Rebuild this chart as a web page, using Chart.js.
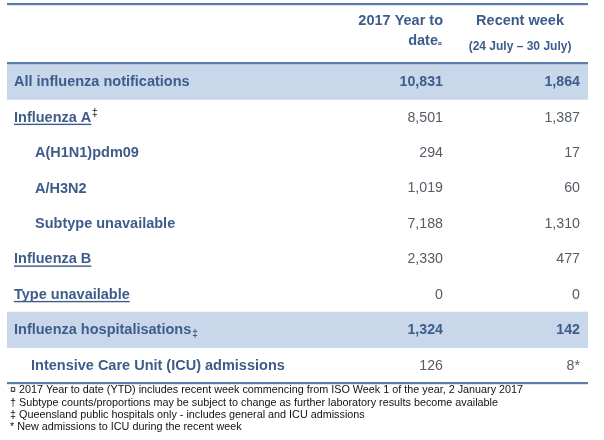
<!DOCTYPE html>
<html>
<head>
<meta charset="utf-8">
<script src="https://cdn.jsdelivr.net/npm/chart.js@4"></script>
<style>
  body { margin: 0; background: #fff; }
</style>
</head>
<body>
<canvas id="fluTable" width="604" height="440"></canvas>
<script>
// table data
const rowLabels = [
  "All influenza notifications",
  "Influenza A",
  "A(H1N1)pdm09",
  "A/H3N2",
  "Subtype unavailable",
  "Influenza B",
  "Type unavailable",
  "Influenza hospitalisations",
  "Intensive Care Unit (ICU) admissions",
];
const labelMarks = ["", "‡", "", "", "", "", "", "‡", ""];
const ytdValues = [10831, 8501, 294, 1019, 7188, 2330, 0, 1324, 126];
const weekValues = [1864, 1387, 17, 60, 1310, 477, 0, 142, 8];
const weekMarks = ["", "", "", "", "", "", "", "", "*"];
const columnHeads = [["2017 Year to", "date"], ["Recent week", "(24 July – 30 July)"]];
const footnotes = [
  "¤ 2017 Year to date (YTD) includes recent week commencing from ISO Week 1 of the year, 2 January 2017",
  "† Subtype counts/proportions may be subject to change as further laboratory results become available",
  "‡ Queensland public hospitals only - includes general and ICU admissions",
  "* New admissions to ICU during the recent week",
];

// which rows get the shaded band, which are indented / underlined
const shadedRows = [0, 7];
const subRows = [2, 3, 4];
const linkRows = [1, 5, 6];
const boldValueRows = [0, 7];

const FONT = '"Liberation Sans", Arial, sans-serif';
const BLUE = "#3e5c8a";
const GREY = "#555c66";
const RULE = "#5a7dac";

const fmt = (v) => v.toLocaleString("en-US");

const tablePlugin = {
  id: "tableText",
  afterDatasetsDraw(chart) {
    const ctx = chart.ctx;
    const area = chart.chartArea;
    const x = chart.scales.x;
    const y = chart.scales.y;
    const col1 = x.getPixelForValue(0.7504);
    const col2 = x.getPixelForValue(0.9862);
    const col2Mid = x.getPixelForValue(0.883);
    ctx.save();

    // rules
    ctx.fillStyle = RULE;
    ctx.fillRect(area.left, 3, area.right - area.left, 2.2);
    ctx.fillRect(area.left, area.top - 2, area.right - area.left, 2.2);
    ctx.fillRect(area.left, area.bottom - 1, area.right - area.left, 2.2);

    // header
    ctx.fillStyle = BLUE;
    ctx.textBaseline = "middle";
    ctx.font = "bold 14.5px " + FONT;
    ctx.textAlign = "right";
    ctx.fillText(columnHeads[0][0], col1, 21);
    ctx.fillText(columnHeads[0][1], col1 - 5, 41);
    ctx.font = "bold 7px " + FONT;
    ctx.textAlign = "left";
    ctx.fillText("¤", col1 - 5, 44);
    ctx.font = "bold 14.5px " + FONT;
    ctx.textAlign = "center";
    ctx.fillText(columnHeads[1][0], col2Mid, 21);
    ctx.font = "bold 12px " + FONT;
    ctx.fillText(columnHeads[1][1], col2Mid, 47);

    // rows
    rowLabels.forEach((label, i) => {
      const cy = y.getPixelForValue(i) + 0.5;
      let lx = area.left + 7;
      if (subRows.includes(i)) lx = area.left + 28;
      if (i === 8) lx = area.left + 24;
      ctx.font = "bold 14.5px " + FONT;
      ctx.fillStyle = BLUE;
      ctx.textAlign = "left";
      ctx.fillText(label, lx, cy);
      const w = ctx.measureText(label).width;
      if (linkRows.includes(i)) {
        ctx.fillRect(lx, cy + 6, w, 1.4);
      }
      if (labelMarks[i]) {
        if (i === 1) {
          ctx.font = "11px " + FONT;
          ctx.fillStyle = "#222";
          ctx.fillText(labelMarks[i], lx + w + 0.5, cy - 5);
        } else {
          ctx.font = "bold 10px " + FONT;
          ctx.fillText(labelMarks[i], lx + w + 1, cy + 4);
        }
      }

      const bold = boldValueRows.includes(i);
      ctx.font = (bold ? "bold " : "") + "14.2px " + FONT;
      ctx.fillStyle = bold ? BLUE : GREY;
      ctx.textAlign = "right";
      ctx.fillText(fmt(ytdValues[i]), col1, cy);
      ctx.fillText(fmt(weekValues[i]) + weekMarks[i], col2, cy);
    });

    // footnotes
    ctx.fillStyle = "#111";
    ctx.font = "10.8px " + FONT;
    ctx.textAlign = "left";
    footnotes.forEach((note, i) => {
      ctx.fillText(note, area.left + 3, area.bottom + 7.5 + i * 12.1);
    });
    ctx.restore();
  },
};

new Chart(document.getElementById("fluTable"), {
  type: "bar",
  data: {
    labels: rowLabels,
    datasets: [
      {
        data: rowLabels.map((_, i) => (shadedRows.includes(i) ? [0, 1] : null)),
        backgroundColor: "#c8d7ea",
        borderWidth: 0,
        barPercentage: 1,
        categoryPercentage: 1,
      },
    ],
  },
  options: {
    indexAxis: "y",
    responsive: false,
    animation: false,
    layout: { padding: { top: 64, left: 7, right: 16, bottom: 57 } },
    scales: {
      x: { min: 0, max: 1, display: false },
      y: { display: false },
    },
    plugins: { legend: { display: false }, tooltip: { enabled: false } },
  },
  plugins: [tablePlugin],
});
</script>
</body>
</html>
